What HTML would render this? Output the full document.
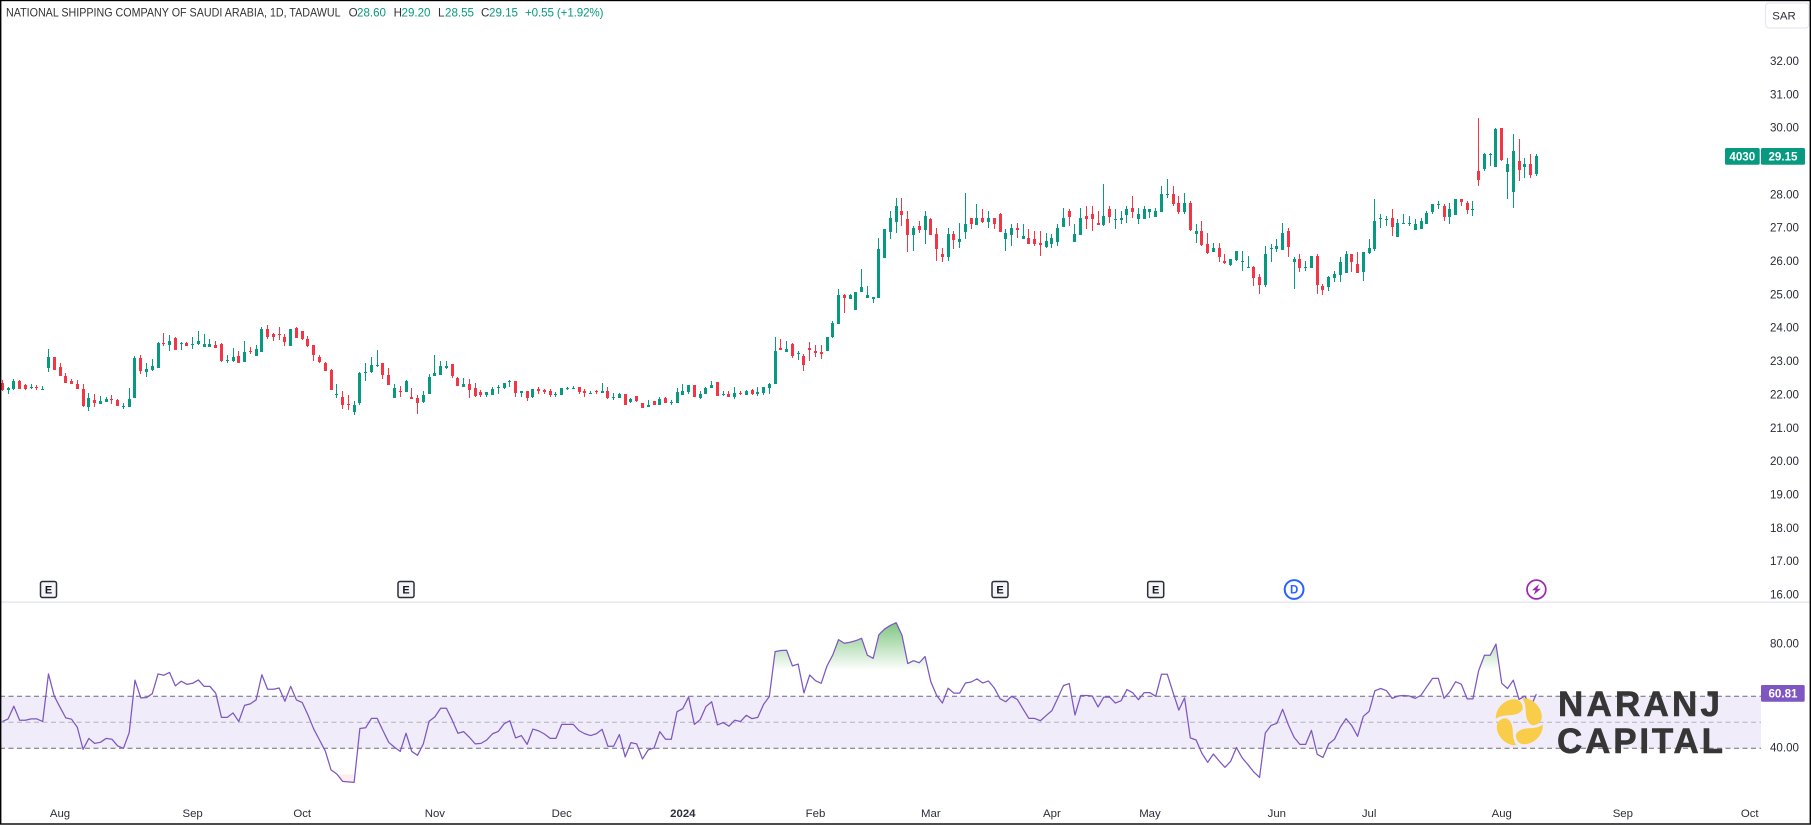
<!DOCTYPE html>
<html lang="en">
<head>
<meta charset="utf-8">
<title>National Shipping Company of Saudi Arabia, 1D, Tadawul</title>
<style>
html,body{margin:0;padding:0;background:#fff;width:1811px;height:825px;overflow:hidden}
svg{display:block}
text{font-family:"Liberation Sans",sans-serif}
.axis{font-size:11.6px;fill:#2a2e39}
.month{font-size:11.4px;fill:#2a2e39;text-anchor:middle}
.leg{font-size:11.6px;fill:#333}
.val{font-size:11.6px;fill:#089981}
</style>
</head>
<body>
<svg id="chart" xmlns="http://www.w3.org/2000/svg" width="1811" height="825" viewBox="0 0 1811 825">
  <rect x="0" y="0" width="1811" height="825" fill="#ffffff"/>
  <g id="rsiLayer"></g>
  <g id="candleLayer"></g>
  <g id="eventLayer"></g>
  <rect x="0" y="601.5" width="1811" height="1.2" fill="#e1e0ef"/>
  <g id="axisLayer"></g>

  <text class="leg" x="6" y="16.5" textLength="334.6" lengthAdjust="spacingAndGlyphs">NATIONAL SHIPPING COMPANY OF SAUDI ARABIA, 1D, TADAWUL</text>
  <g>
    <text class="leg" x="348.6" y="16.5">O</text>
    <text class="val" x="357" y="16.5" textLength="29">28.60</text>
    <text class="leg" x="393.6" y="16.5">H</text>
    <text class="val" x="401.5" y="16.5" textLength="29">29.20</text>
    <text class="leg" x="438" y="16.5">L</text>
    <text class="val" x="445" y="16.5" textLength="29">28.55</text>
    <text class="leg" x="481" y="16.5">C</text>
    <text class="val" x="489" y="16.5" textLength="29">29.15</text>
    <text class="val" x="525" y="16.5" textLength="78.5">+0.55 (+1.92%)</text>
  </g>

  <g>
    <rect x="1765.5" y="3" width="43.5" height="25" rx="3.5" fill="#fff" stroke="#e6e7f0" stroke-width="1.2"/>
    <text x="1784" y="19.5" font-size="11.4" fill="#2a2e39" text-anchor="middle">SAR</text>
  </g>

  <g>
    <rect x="1725" y="148" width="34.7" height="16.7" rx="1.5" fill="#089981"/>
    <text x="1742.3" y="160.5" font-size="11.6" font-weight="bold" fill="#fff" text-anchor="middle">4030</text>
    <rect x="1761" y="148" width="44" height="16.7" rx="1.5" fill="#089981"/>
    <text x="1783" y="160.5" font-size="11.6" font-weight="bold" fill="#fff" text-anchor="middle">29.15</text>
  </g>
  <g>
    <rect x="1761" y="685" width="43.7" height="16.7" rx="1.5" fill="#7e57c2"/>
    <text x="1783" y="697.5" font-size="11.6" font-weight="bold" fill="#fff" text-anchor="middle">60.81</text>
  </g>

  <g>
    <g transform="translate(1519.3 721.7)" fill="#f9cd4a">
      <path d="M-23.5,-3 C-24,-14 -14,-22.5 -5,-22.5 C0,-22.5 3,-19 3.5,-14 C3.5,-11 0,-8 -5,-7 C-11,-6 -18,-7 -23.5,-3 Z"/>
      <path transform="rotate(90)" d="M-23.5,-3 C-24,-14 -14,-22.5 -5,-22.5 C0,-22.5 3,-19 3.5,-14 C3.5,-11 0,-8 -5,-7 C-11,-6 -18,-7 -23.5,-3 Z"/>
      <path transform="rotate(180)" d="M-23.5,-3 C-24,-14 -14,-22.5 -5,-22.5 C0,-22.5 3,-19 3.5,-14 C3.5,-11 0,-8 -5,-7 C-11,-6 -18,-7 -23.5,-3 Z"/>
      <path transform="rotate(270)" d="M-23.5,-3 C-24,-14 -14,-22.5 -5,-22.5 C0,-22.5 3,-19 3.5,-14 C3.5,-11 0,-8 -5,-7 C-11,-6 -18,-7 -23.5,-3 Z"/>
    </g>
    <text x="1558" y="716" font-size="35" font-weight="bold" fill="#363636" stroke="#363636" stroke-width="0.6" textLength="162" lengthAdjust="spacing">NARANJ</text>
    <text x="1557" y="753" font-size="35" font-weight="bold" fill="#363636" stroke="#363636" stroke-width="0.6" textLength="166" lengthAdjust="spacing">CAPITAL</text>
  </g>

  <rect x="0.7" y="0.5" width="1809.6" height="823.5" fill="none" stroke="#000" stroke-width="1.4"/>
</svg>

<script>
const opens = [
22.33,22.12,22.15,22.39,22.27,22.18,22.22,22.13,22.78,23.11,
22.81,22.54,22.39,22.30,22.15,21.61,21.82,21.70,21.76,21.85,
21.82,21.61,21.61,21.88,23.08,22.66,22.72,22.78,23.53,23.47,
23.68,23.50,23.53,23.47,23.50,23.41,23.41,23.47,23.50,22.99,
22.99,23.14,22.96,23.29,23.14,23.26,23.95,23.80,23.80,23.71,
23.44,23.98,23.89,23.65,23.47,23.11,22.93,22.72,21.97,21.91,
21.70,21.46,21.73,22.63,22.66,22.84,22.93,22.57,21.88,22.09,
22.06,21.91,21.88,21.76,22.00,22.54,22.57,22.78,22.90,22.48,
22.21,22.30,22.18,22.06,21.97,21.97,22.18,22.18,22.36,22.39,
22.03,22.09,21.91,22.15,22.12,22.09,21.97,21.97,22.15,22.15,
22.21,22.09,22.00,22.09,22.03,22.09,21.88,21.88,22.00,21.76,
21.94,21.73,21.61,21.79,21.67,21.88,21.73,21.73,21.97,22.06,
22.27,21.88,22.00,22.18,22.36,21.97,22.00,21.91,22.03,21.97,
22.12,22.00,22.03,22.18,22.30,23.38,23.26,23.50,23.20,23.14,
23.38,23.29,23.26,23.29,23.71,24.10,24.97,24.85,24.52,25.06,
24.88,24.85,24.88,26.08,26.86,27.16,27.49,27.25,26.77,27.04,
26.92,27.25,26.80,26.20,26.11,26.80,26.56,26.86,27.28,27.07,
27.28,27.16,27.28,27.40,26.65,26.77,26.98,26.65,26.68,26.65,
26.53,26.41,26.50,26.56,27.01,27.49,26.56,26.77,27.34,27.40,
27.13,27.07,27.55,27.22,27.22,27.37,27.58,27.25,27.25,27.46,
27.31,27.46,27.97,28.00,27.73,27.46,27.73,26.80,26.89,26.50,
26.26,26.38,25.99,25.87,26.02,25.96,25.78,25.81,25.51,25.27,
26.35,26.35,26.32,26.89,25.96,26.05,25.78,25.78,26.14,25.24,
25.21,25.48,25.57,25.63,26.20,25.90,25.66,26.23,26.35,27.25,
27.22,27.28,26.71,27.10,27.10,26.92,26.95,27.10,27.46,27.67,
27.64,27.31,27.37,27.85,27.73,27.52,28.69,28.75,29.17,28.81,
29.98,28.66,28.06,28.99,28.81,28.90,28.60];

const highs = [
22.42,22.22,22.45,22.42,22.30,22.30,22.27,22.24,23.35,23.11,
22.93,22.63,22.45,22.42,22.30,22.03,22.00,21.94,21.91,21.97,
21.85,21.73,22.18,23.14,23.17,22.93,23.05,23.56,23.83,23.77,
23.71,23.56,23.56,23.71,23.89,23.80,23.65,23.59,23.53,23.17,
23.38,23.29,23.59,23.41,23.47,24.01,24.07,23.83,24.01,23.80,
23.95,24.01,23.89,23.74,23.47,23.17,22.96,22.75,22.30,22.09,
21.97,21.79,22.66,22.93,23.11,23.32,22.93,22.78,22.30,22.24,
22.42,22.18,21.97,22.09,22.60,23.17,22.99,22.99,22.90,22.51,
22.48,22.45,22.33,22.12,22.06,22.21,22.27,22.33,22.42,22.39,
22.09,22.09,22.15,22.21,22.15,22.15,22.06,22.18,22.21,22.24,
22.21,22.15,22.09,22.12,22.33,22.21,22.03,22.03,22.00,21.88,
21.94,21.73,21.82,21.79,21.91,21.91,21.82,22.18,22.30,22.27,
22.27,22.09,22.21,22.39,22.36,22.09,22.09,22.21,22.09,22.12,
22.15,22.21,22.21,22.33,23.71,23.65,23.59,23.53,23.29,23.20,
23.56,23.47,23.47,23.71,24.19,25.15,25.00,25.00,25.06,25.75,
25.24,24.91,26.68,26.95,27.49,27.88,27.88,27.49,27.04,27.19,
27.49,27.28,26.98,26.38,26.98,26.89,27.13,28.03,27.28,27.70,
27.55,27.49,27.28,27.43,26.95,27.10,27.13,27.10,26.95,26.89,
26.89,26.83,26.80,27.10,27.58,27.55,27.10,27.58,27.64,27.64,
27.49,28.30,27.64,27.55,27.49,27.64,27.94,27.58,27.64,27.55,
27.58,28.24,28.45,28.24,27.94,28.03,27.79,27.10,27.19,26.83,
26.53,26.53,26.20,26.05,26.29,26.29,26.14,25.84,25.60,26.44,
26.50,26.65,27.13,26.98,26.11,26.20,25.99,26.14,26.20,25.30,
25.54,25.69,26.11,26.29,26.20,26.26,26.26,26.65,27.85,27.40,
27.34,27.55,27.25,27.40,27.34,27.25,27.28,27.49,27.70,27.79,
27.70,27.73,27.85,27.85,27.79,27.79,30.28,29.23,29.23,29.98,
29.98,29.08,29.80,29.65,29.08,29.20,29.20];

const lows = [
22.09,22.00,22.12,22.15,22.12,22.15,22.12,22.12,22.66,22.72,
22.54,22.33,22.30,22.15,21.61,21.49,21.61,21.70,21.76,21.70,
21.64,21.55,21.61,21.88,22.60,22.51,22.69,22.78,23.44,23.29,
23.32,23.32,23.44,23.35,23.47,23.41,23.41,23.38,22.96,22.93,
22.96,22.93,22.96,23.20,23.14,23.26,23.65,23.59,23.62,23.44,
23.44,23.68,23.62,23.41,22.99,22.93,22.69,22.12,21.88,21.55,
21.52,21.37,21.67,22.39,22.63,22.81,22.45,22.27,21.88,21.91,
22.06,21.85,21.40,21.73,22.00,22.54,22.57,22.75,22.48,22.24,
22.21,21.88,21.91,21.91,21.91,21.97,22.00,22.15,22.21,21.91,
21.91,21.79,21.88,22.00,22.00,21.91,21.91,21.97,22.12,22.15,
22.00,21.91,22.00,22.00,22.03,21.85,21.82,21.88,21.67,21.73,
21.76,21.58,21.61,21.67,21.67,21.73,21.67,21.73,21.97,22.00,
21.91,21.85,22.00,22.18,21.94,21.94,21.91,21.85,21.97,21.97,
21.97,21.94,21.97,22.00,22.30,23.32,23.26,23.08,23.02,22.69,
22.99,23.11,23.05,23.29,23.68,24.10,24.43,24.85,24.52,25.06,
24.88,24.73,24.88,26.08,26.65,26.83,27.04,26.26,26.29,26.83,
26.50,26.77,25.99,25.96,25.99,26.35,26.38,26.65,26.95,27.07,
27.13,26.98,26.95,26.86,26.29,26.44,26.68,26.65,26.50,26.44,
26.14,26.38,26.38,26.44,27.01,27.04,26.56,26.77,26.95,26.89,
27.07,27.04,27.13,26.95,27.10,27.13,27.28,27.10,27.25,27.28,
27.31,27.46,27.88,27.64,27.40,27.40,26.89,26.53,26.44,26.20,
26.26,25.96,25.90,25.84,25.99,25.69,25.78,25.24,25.00,25.21,
25.96,26.26,26.32,26.11,25.15,25.66,25.69,25.78,25.00,24.97,
25.09,25.36,25.36,25.63,25.66,25.63,25.39,26.20,26.29,26.98,
27.04,26.74,26.71,27.10,27.04,26.92,26.95,27.10,27.40,27.55,
27.19,27.10,27.37,27.64,27.40,27.34,28.24,28.69,28.84,28.81,
28.99,27.85,27.58,28.39,28.48,28.48,28.55];

const closes = [
22.12,22.18,22.39,22.15,22.15,22.22,22.18,22.15,23.11,22.72,
22.54,22.33,22.30,22.15,21.64,21.88,21.73,21.79,21.85,21.82,
21.64,21.64,21.85,23.08,22.69,22.75,22.84,23.53,23.50,23.59,
23.32,23.53,23.44,23.50,23.59,23.50,23.50,23.38,22.99,23.02,
23.11,22.93,23.26,23.26,23.35,23.95,23.71,23.71,23.77,23.56,
23.95,23.68,23.65,23.44,23.17,22.96,22.69,22.12,22.00,21.67,
21.67,21.67,22.63,22.66,22.87,22.87,22.57,22.27,22.18,22.06,
22.39,21.85,21.73,21.97,22.51,22.63,22.84,22.84,22.54,22.24,
22.30,22.12,21.94,21.97,22.06,22.15,22.21,22.33,22.39,22.03,
22.09,21.88,22.15,22.09,22.06,21.97,22.00,22.18,22.18,22.18,
22.06,22.03,22.03,22.06,22.09,21.88,21.91,22.00,21.67,21.85,
21.79,21.58,21.67,21.67,21.85,21.73,21.76,22.06,22.09,22.27,
21.91,22.00,22.18,22.27,21.94,22.00,21.91,22.03,22.00,22.09,
22.00,22.06,22.21,22.30,23.29,23.32,23.35,23.14,23.23,22.87,
23.32,23.23,23.20,23.71,24.13,24.97,24.88,24.97,25.06,25.21,
24.97,24.91,26.35,26.95,27.28,27.64,27.37,26.77,26.98,26.92,
27.34,26.77,26.35,26.11,26.80,26.62,26.65,27.10,27.10,27.28,
27.16,27.28,27.10,26.86,26.83,26.98,26.92,26.74,26.50,26.50,
26.47,26.59,26.68,26.98,27.28,27.31,26.80,27.28,27.25,27.25,
27.07,27.34,27.31,27.25,27.28,27.55,27.46,27.40,27.55,27.55,
27.49,28.00,28.00,27.70,27.46,27.73,26.92,26.89,26.47,26.23,
26.38,26.11,25.93,26.05,26.29,25.99,25.81,25.48,25.27,26.20,
26.38,26.44,26.83,26.41,26.05,25.78,25.81,26.14,25.27,25.12,
25.51,25.60,25.96,26.20,25.96,25.63,26.26,26.38,27.19,27.28,
27.25,27.01,27.13,27.13,27.13,27.10,27.19,27.43,27.70,27.70,
27.31,27.55,27.85,27.76,27.52,27.55,28.42,29.20,29.20,29.95,
29.02,28.90,29.29,28.72,28.90,28.57,29.15];

const rsiValues = [
50.3,51.3,56.2,50.8,50.8,51.3,51.3,50.3,68.6,60.1,
55.8,51.7,51.2,48.1,39.6,43.8,41.9,42.3,43.8,43.5,
40.9,40.0,46.0,66.2,59.4,59.5,61.0,68.6,68.1,69.2,
64.0,65.8,64.6,65.0,66.3,63.8,63.8,61.2,51.9,51.9,
53.6,50.3,56.5,57.1,58.6,68.3,62.7,62.7,63.2,58.1,
63.8,58.6,57.6,52.8,47.4,43.2,39.0,31.7,30.1,27.3,
27.1,26.9,47.6,47.9,51.5,51.5,46.8,42.3,40.4,38.8,
45.8,38.8,37.3,41.7,50.4,52.1,55.4,55.4,50.9,45.8,
46.4,44.2,41.7,41.9,43.2,45.6,46.5,49.4,50.6,44.0,
44.9,41.5,47.4,46.7,45.5,43.8,43.8,49.2,49.2,49.2,
46.8,45.6,44.9,45.6,47.3,40.8,40.8,45.3,36.7,42.2,
41.7,35.9,39.4,40.1,46.4,43.5,43.5,54.1,55.3,59.7,
49.2,51.0,56.0,57.9,49.0,49.9,48.5,50.8,50.3,52.7,
51.4,51.9,56.9,59.9,77.2,77.6,77.7,71.7,72.4,61.3,
68.2,66.0,65.0,71.7,75.9,81.8,80.4,80.8,81.4,82.3,
75.8,74.6,83.7,85.9,87.3,88.3,83.5,72.6,73.7,72.9,
75.3,65.6,60.4,57.4,63.1,61.2,61.2,65.1,65.5,66.7,
65.1,65.9,63.2,59.1,57.9,60.0,58.8,55.1,51.5,51.5,
50.6,52.6,54.5,59.2,64.1,64.9,52.8,60.3,60.3,60.1,
55.9,59.7,59.7,57.4,58.3,62.6,61.4,58.7,61.4,61.4,
60.0,68.5,68.5,61.5,54.7,59.4,44.0,43.2,38.1,34.6,
37.8,35.1,32.7,35.0,40.3,36.3,33.7,30.9,28.8,45.9,
48.8,49.6,55.0,49.0,44.2,41.5,41.5,46.9,37.7,36.5,
41.7,43.5,48.1,51.4,48.7,44.6,52.3,54.2,62.1,63.0,
62.2,59.2,60.1,60.3,60.1,59.2,60.4,63.7,66.9,66.9,
59.2,61.8,65.6,64.6,59.0,59.0,69.9,75.8,75.8,80.1,
65.0,63.0,66.2,58.8,60.1,56.0,60.81];

const priceTicks = [32,31,30,28,27,26,25,24,23,22,21,20,19,18,17,16];
const rsiTicks = [80,40];
const monthLabels = ['Aug','Sep','Oct','Nov','Dec','2024','Feb','Mar','Apr','May','Jun','Jul','Aug','Sep','Oct'];
const monthStartBars = [10,33,52,75,97,118,141,161,182,199,221,237,260,281,303];
const earningsBars = [8,70,173,200];
const dividendBars = [224];
const splitBars = [266];
const rsiUpper = 60;
const rsiMiddle = 50;
const rsiLower = 40;
const rsiOverbought = 70;
const rsiOversold = 30;

const NS = 'http://www.w3.org/2000/svg';
const UP = '#089981';
const DOWN = '#f23645';
const PLOT_RIGHT = 1761;

function xOf(i){ return 2.33 + 5.767 * i; }
function yPrice(p){ return 60.7 + (32 - p) * 33.35; }
function yRsi(v){ return 696.3 + (60 - v) * 2.6; }

function make(tag, parent, attrs){
  const el = document.createElementNS(NS, tag);
  for (const k in attrs) el.setAttribute(k, attrs[k]);
  parent.appendChild(el);
  return el;
}

/* RSI pane */
const rsiLayer = document.getElementById('rsiLayer');
const band = make('rect', rsiLayer, {x:0, y:yRsi(rsiUpper), width:PLOT_RIGHT, height:yRsi(rsiLower)-yRsi(rsiUpper), fill:'#f0ecf9'});



function bandLine(v, color, name){
  const l = make('line', rsiLayer, {x1:0, x2:PLOT_RIGHT, y1:yRsi(v), y2:yRsi(v), stroke:color, 'stroke-width':1, 'stroke-dasharray':'5 3.5'});
  
  
}
bandLine(rsiUpper, '#6e6a7c', 'rsi-upper-band-line');
bandLine(rsiMiddle, '#b3b1bd', 'rsi-middle-band-line');
bandLine(rsiLower, '#6e6a7c', 'rsi-lower-band-line');

const linePts = rsiValues.map((v,i)=>xOf(i).toFixed(2)+','+yRsi(v).toFixed(2));

const clipOB = make('clipPath', rsiLayer, {id:'clipOB'});
make('rect', clipOB, {x:0, y:0, width:1811, height:yRsi(rsiOverbought)});
const clipOS = make('clipPath', rsiLayer, {id:'clipOS'});
make('rect', clipOS, {x:0, y:yRsi(rsiOversold), width:1811, height:200});

const lastX = xOf(rsiValues.length-1).toFixed(2);
const firstX = xOf(0).toFixed(2);
const maxRsi = Math.max.apply(null, rsiValues);
const gradU = make('linearGradient', rsiLayer, {id:'obGradU', gradientUnits:'userSpaceOnUse', x1:0, x2:0, y1:yRsi(maxRsi), y2:yRsi(rsiOverbought)});
make('stop', gradU, {offset:0, 'stop-color':'#4caf50', 'stop-opacity':0.72});
make('stop', gradU, {offset:1, 'stop-color':'#4caf50', 'stop-opacity':0});
const obFill = make('polygon', rsiLayer, {
  points: linePts.join(' ')+' '+lastX+','+yRsi(rsiOverbought)+' '+firstX+','+yRsi(rsiOverbought),
  fill:'url(#obGradU)', 'clip-path':'url(#clipOB)'
});



const osFill = make('polygon', rsiLayer, {
  points: linePts.join(' ')+' '+lastX+','+yRsi(rsiOversold)+' '+firstX+','+yRsi(rsiOversold),
  fill:'#f23645', 'fill-opacity':0.09, 'clip-path':'url(#clipOS)'
});



const rsiLine = make('polyline', rsiLayer, {points:linePts.join(' '), fill:'none', stroke:'#7e57c2', 'stroke-width':1.25, 'stroke-linejoin':'round'});



/* Candles */
const candleLayer = document.getElementById('candleLayer');
opens.forEach((o,i)=>{
  const c = closes[i];
  const color = c >= o ? UP : DOWN;
  const col = Math.floor(xOf(i));
  const g = make('g', candleLayer, {'shape-rendering':'crispEdges', fill:color});
  
  
  const yH = Math.round(yPrice(highs[i]));
  const yL = Math.round(yPrice(lows[i]));
  const yT = Math.round(yPrice(Math.max(o,c)));
  const yB = Math.round(yPrice(Math.min(o,c)));
  make('rect', g, {x:col, y:yH, width:1, height:Math.max(1,yL-yH)});
  make('rect', g, {x:col-1, y:yT, width:3, height:Math.max(1,yB-yT)});
});

/* Axes */
const axisLayer = document.getElementById('axisLayer');
priceTicks.forEach(p=>{
  const t = make('text', axisLayer, {x:1799, y:yPrice(p)+4.2, 'text-anchor':'end', class:'axis'});
  t.textContent = p.toFixed(2);
  
  
});
rsiTicks.forEach(v=>{
  const t = make('text', axisLayer, {x:1799, y:yRsi(v)+3.4, 'text-anchor':'end', class:'axis'});
  t.textContent = v.toFixed(2);
  
  
});
monthLabels.forEach((m,i)=>{
  const t = make('text', axisLayer, {x:xOf(monthStartBars[i]), y:816.8, class:'month'});
  if (m === '2024') { t.setAttribute('font-weight','bold'); t.setAttribute('fill','#131722'); }
  t.textContent = m;
  
  
});

/* Event markers */
const eventLayer = document.getElementById('eventLayer');
const EVENT_Y = 589.5;
earningsBars.forEach(b=>{
  const g = make('g', eventLayer, {transform:'translate('+xOf(b).toFixed(1)+' '+EVENT_Y+')'});
  
  
  make('rect', g, {x:-8, y:-8, width:16, height:16, rx:2, fill:'#f5f5f7', stroke:'#2a2e39', 'stroke-width':1.5});
  const t = make('text', g, {x:0, y:4, 'font-size':11, 'font-weight':'bold', 'text-anchor':'middle', fill:'#131722'});
  t.textContent = 'E';
});
dividendBars.forEach(b=>{
  const g = make('g', eventLayer, {transform:'translate('+xOf(b).toFixed(1)+' '+EVENT_Y+')'});
  
  
  make('circle', g, {r:9.4, fill:'#fff', stroke:'#2962ff', 'stroke-width':2});
  const t = make('text', g, {x:0, y:4.2, 'font-size':11.5, 'font-weight':'bold', 'text-anchor':'middle', fill:'#2962ff'});
  t.textContent = 'D';
});
splitBars.forEach(b=>{
  const g = make('g', eventLayer, {transform:'translate('+xOf(b).toFixed(1)+' '+EVENT_Y+')'});
  
  
  make('circle', g, {r:9.4, fill:'#fff', stroke:'#9c27b0', 'stroke-width':1.7});
  make('polygon', g, {points:'2.8,-5.5 -4.5,0.8 -0.8,0.8 -2.8,5.5 4.5,-0.8 0.8,-0.8', fill:'#9c27b0'});
});
</script>
</body>
</html>
